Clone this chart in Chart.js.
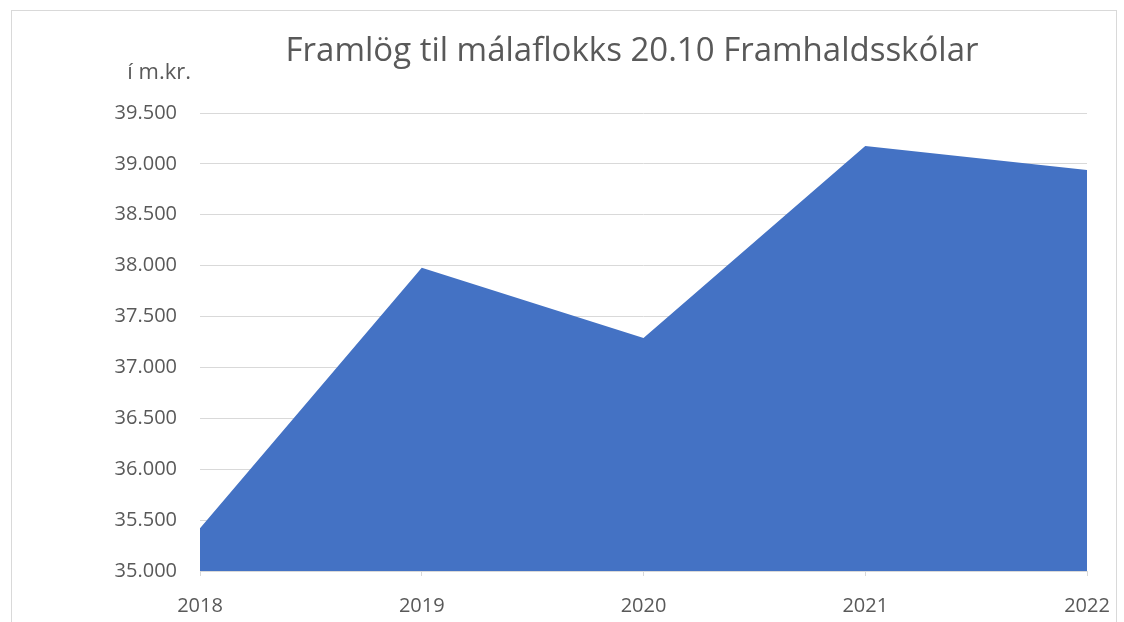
<!DOCTYPE html>
<html><head><meta charset="utf-8">
<script src="https://cdn.jsdelivr.net/npm/chart.js@4.4.0/dist/chart.umd.min.js"></script>
<style>html,body{margin:0;padding:0;background:#fff}#wrap{width:1124px;height:622px;position:relative}</style>
</head><body><div id="wrap"><canvas id="c" width="1124" height="622"></canvas></div>
<script>
const years = ['2018','2019','2020','2021','2022'];
const framlog = [35420, 37980, 37290, 39175, 38940];
const yMin = 35000, yMax = 39500, yStep = 500;
const chartTitle = 'Framlög til málaflokks 20.10 Framhaldsskólar';
const unitLabel = 'í m.kr.';

const FONT = "'Open Sans', sans-serif";
const TXT = '#595959';

const extras = {
  id: 'extras',
  afterDraw(chart) {
    const ctx = chart.ctx;
    ctx.save();
    ctx.strokeStyle = '#d9d9d9';
    ctx.lineWidth = 1;
    ctx.strokeRect(11.5, 10.5, 1105, 620);
    ctx.fillStyle = TXT;
    ctx.textBaseline = 'alphabetic';
    ctx.font = "33px " + FONT;
    ctx.textAlign = 'center';
    ctx.fillText(chartTitle, 632, 61);
    ctx.font = "22px " + FONT;
    ctx.textAlign = 'right';
    ctx.fillText(unitLabel, 191, 79);
    ctx.restore();
  }
};

new Chart(document.getElementById('c'), {
  type: 'line',
  data: {
    labels: years,
    datasets: [{
      data: framlog,
      fill: 'start',
      backgroundColor: '#4472C4',
      borderColor: '#4472C4',
      borderWidth: 0,
      pointRadius: 0,
      tension: 0
    }]
  },
  options: {
    responsive: false,
    animation: false,
    layout: { padding: { left: 0, right: 37, top: 113, bottom: 0 } },
    plugins: {
      legend: { display: false },
      tooltip: { enabled: false },
      title: { display: false }
    },
    scales: {
      x: {
        offset: false,
        grid: { drawOnChartArea: false, drawTicks: true, tickLength: 5, color: '#d9d9d9' },
        border: { color: '#d9d9d9' },
        ticks: { color: TXT, font: { family: FONT, size: 20 }, padding: 18, maxRotation: 0 },
        afterFit(s) { s.height = 51; s.paddingLeft = 0; s.paddingRight = 0; }
      },
      y: {
        min: yMin, max: yMax,
        grid: { color: '#d9d9d9', drawTicks: false },
        border: { display: false },
        ticks: {
          stepSize: yStep,
          color: TXT,
          font: { family: FONT, size: 20 },
          padding: 23,
          callback: v => v.toLocaleString('de-DE')
        },
        afterFit(s) { s.width = 200; s.paddingTop = 0; s.paddingBottom = 0; }
      }
    }
  },
  plugins: [extras]
});
</script></body></html>
